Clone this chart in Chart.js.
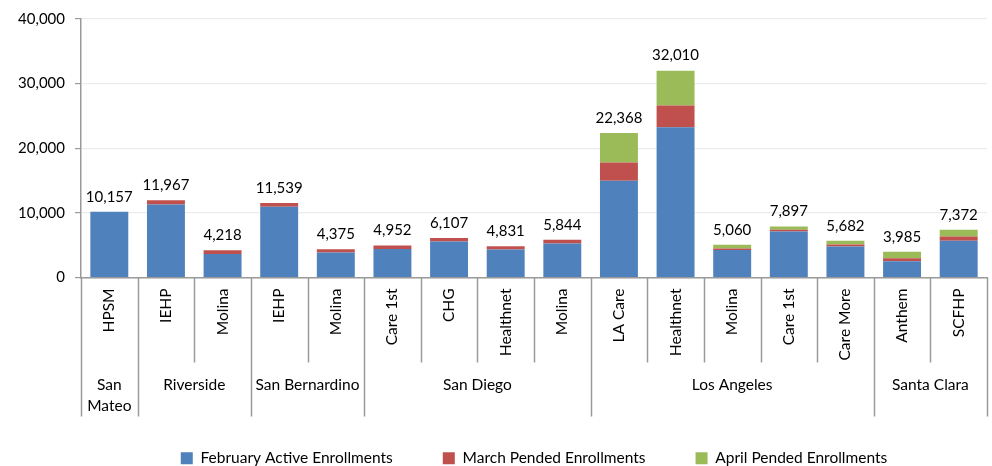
<!DOCTYPE html>
<html>
<head>
<meta charset="utf-8">
<script src="https://cdn.jsdelivr.net/npm/chart.js@4"></script>
<style>
  html, body { margin: 0; padding: 0; background: #fff; }
  #wrap { width: 992px; height: 466px; }
</style>
</head>
<body>
<div id="wrap"><canvas id="enrollChart" width="992" height="466"></canvas></div>
<script>
const plans = ['HPSM', 'IEHP', 'Molina', 'IEHP', 'Molina', 'Care 1st', 'CHG', 'Healthnet', 'Molina',
  'LA Care', 'Healthnet', 'Molina', 'Care 1st', 'Care More', 'Anthem', 'SCFHP'];

// county groups: label lines + first/last plan index
const counties = [['San', 'Mateo'], ['Riverside'], ['San Bernardino'], ['San Diego'], ['Los Angeles'], ['Santa Clara']];
const countyStart = [0, 1, 3, 5, 9, 14];
const countyEnd = [1, 3, 5, 9, 14, 16];

const february = [10157, 11300, 3630, 10930, 3880, 4400, 5570, 4340, 5260, 14970, 23250, 4240, 7100, 4800, 2500, 5670];
const march = [0, 667, 588, 609, 495, 552, 537, 491, 584, 2810, 3370, 250, 300, 300, 460, 660];
const april = [0, 0, 0, 0, 0, 0, 0, 0, 0, 4588, 5390, 570, 497, 582, 1025, 1042];
const totals = [10157, 11967, 4218, 11539, 4375, 4952, 6107, 4831, 5844, 22368, 32010, 5060, 7897, 5682, 3985, 7372];

const yTicks = [0, 10000, 20000, 30000, 40000];

const FONT = 'Lato';
const fmt = v => v.toLocaleString('en-US');

// totals above each stack
const totalLabels = {
  id: 'totalLabels',
  afterDatasetsDraw(chart) {
    const { ctx } = chart;
    const y = chart.scales.y;
    const meta = chart.getDatasetMeta(0);
    ctx.save();
    ctx.font = '15px ' + FONT;
    ctx.fillStyle = '#000';
    ctx.textAlign = 'center';
    ctx.textBaseline = 'middle';
    totals.forEach((t, i) => {
      ctx.fillText(fmt(t), meta.data[i].x, y.getPixelForValue(t) - 15);
    });
    ctx.restore();
  }
};

// two-level category axis: separators + county names
const countyAxis = {
  id: 'countyAxis',
  afterLayout(chart) {
    // centre the legend under the plot area and drop it a bit
    const lg = chart.legend;
    lg.left = chart.chartArea.left;
    lg.right = chart.chartArea.right;
    lg.top += 10;
    lg.bottom += 10;
  },
  afterDraw(chart) {
    const { ctx } = chart;
    const x = chart.scales.x;
    const base = chart.chartArea.bottom;
    const half = (x.getPixelForValue(1) - x.getPixelForValue(0)) / 2;
    const edge = i => x.getPixelForValue(i) - half;
    ctx.save();
    ctx.strokeStyle = '#9a9a9a';
    ctx.lineWidth = 1.5;
    for (let i = 0; i <= plans.length; i++) {
      const long = countyStart.includes(i) || i === plans.length;
      const px = Math.round(edge(i)) + 0.5;
      ctx.beginPath();
      ctx.moveTo(px, base);
      ctx.lineTo(px, base + (long ? 139 : 85));
      ctx.stroke();
    }
    ctx.font = '15.5px ' + FONT;
    ctx.fillStyle = '#000';
    ctx.textAlign = 'center';
    ctx.textBaseline = 'middle';
    counties.forEach((lines, k) => {
      const cx = (edge(countyStart[k]) + edge(countyEnd[k])) / 2;
      lines.forEach((ln, j) => ctx.fillText(ln, cx, base + 107 + j * 21));
    });
    ctx.restore();
  }
};

new Chart(document.getElementById('enrollChart').getContext('2d'), {
  type: 'bar',
  data: {
    labels: plans,
    datasets: [
      { label: 'February Active Enrollments', data: february, backgroundColor: '#4F81BD' },
      { label: 'March Pended Enrollments', data: march, backgroundColor: '#C0504D' },
      { label: 'April Pended Enrollments', data: april, backgroundColor: '#9BBB59' }
    ]
  },
  options: {
    responsive: false,
    animation: false,
    events: [],
    layout: { padding: { top: 15, right: 5, left: 0, bottom: 0 } },
    datasets: { bar: { categoryPercentage: 1, barPercentage: 0.67 } },
    plugins: {
      tooltip: { enabled: false },
      legend: {
        position: 'bottom',
        labels: {
          font: { family: FONT, size: 15.5 },
          color: '#000',
          boxWidth: 12,
          boxHeight: 12,
          padding: 50
        }
      }
    },
    scales: {
      x: {
        stacked: true,
        grid: { display: false, drawTicks: false },
        border: { display: true, color: '#9a9a9a', width: 1.5 },
        ticks: {
          font: { family: FONT, size: 15.5 },
          color: '#000',
          minRotation: 90,
          maxRotation: 90,
          autoSkip: false,
          padding: 11
        },
        afterFit: s => { s.height = 113; }
      },
      y: {
        stacked: true,
        min: 0,
        max: 40000,
        afterBuildTicks: s => { s.ticks = yTicks.map(v => ({ value: v })); },
        grid: { color: '#ececec', tickColor: '#9a9a9a', tickLength: 6, lineWidth: 1.2 },
        border: { display: true, color: '#9a9a9a', width: 1.5 },
        ticks: {
          font: { family: FONT, size: 15 },
          color: '#000',
          padding: 10,
          callback: v => fmt(v)
        },
        afterFit: s => { s.width = 81; }
      }
    }
  },
  plugins: [totalLabels, countyAxis]
});
</script>
</body>
</html>
